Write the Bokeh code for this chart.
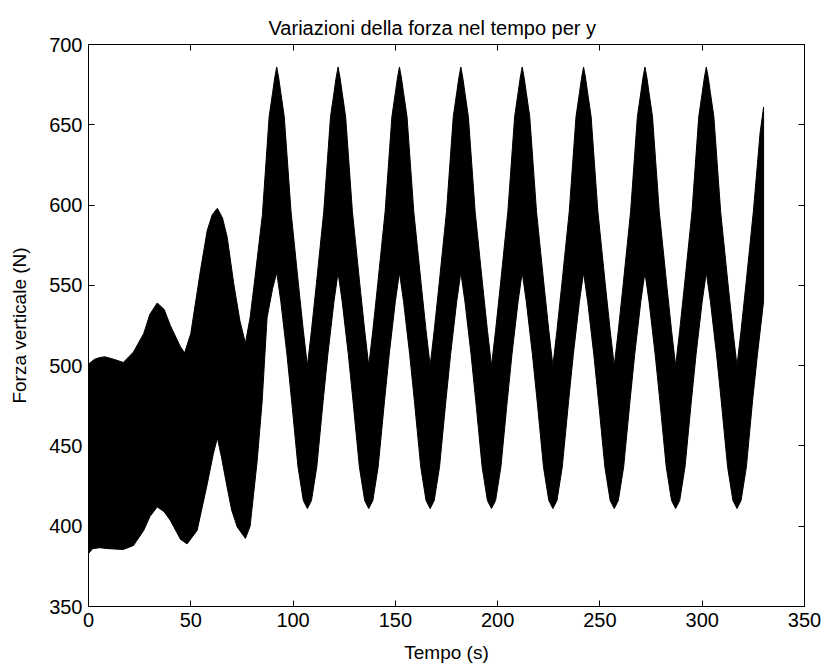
from bokeh.plotting import figure
from bokeh.models import Range1d, FixedTicker, LinearAxis, CustomJSTickFormatter
from bokeh.embed import file_html
from bokeh.resources import INLINE

# ---------------- data ----------------
x_ticks = [0, 50, 100, 150, 200, 250, 300, 350]
y_ticks = [350, 400, 450, 500, 550, 600, 650, 700]

# envelope of the fast oscillation, first (beating) part, 0 - 77 s
upper_early_t = [0, 3, 5.4, 8, 12.3, 17, 22, 27, 30, 33.6, 37, 40, 45, 47,
                 50, 54.7, 58, 60.5, 63, 65.5, 67.8, 71, 74, 76.7]
upper_early_v = [501, 504, 505, 505.5, 504, 502, 508.5, 520, 532, 539, 535, 525, 511.6, 508,
                 520, 559, 584, 594, 598, 592, 580, 551, 528, 514]
lower_early_t = [0, 2, 5.4, 10, 17, 22, 27, 30, 33.6, 37, 40, 45, 48.2,
                 53.1, 58, 61, 63, 65, 67.8, 70, 72.7, 76.7]
lower_early_v = [383, 386, 386.6, 386, 385.5, 388, 397.4, 406, 412, 409, 403.6, 391.8, 389,
                 397.4, 426, 445, 455, 443, 424, 410, 399.5, 392.4]

# transition to the periodic regime, 77 - 92 s
upper_trans_t = [79, 81.4, 85, 88.3, 90, 91]
upper_trans_v = [530, 555, 594, 655, 670, 679]
lower_trans_t = [79, 82.4, 84.9, 87.3, 90, 92]
lower_trans_v = [400, 440, 478, 530, 548, 558]

# periodic regime: peak / trough times
peak_times = [92, 122, 152, 182, 212, 242, 272, 302]
trough_times = [107, 137, 167, 197, 227, 257, 287, 317]

# upper envelope around each peak (offset s, value N)
upper_dt = [-13, -10.6, -7, -3.7, -2, -1, 0, 1, 2, 3.7, 7, 10.6, 13, 15]
upper_v = [522, 551, 596, 655, 670, 679, 686, 679, 670, 655, 596, 551, 522, 500]
# lower envelope around each trough (offset s, value N)
lower_dt = [-13, -10, -7.7, -4.6, -2, 0, 2, 4.6, 7.7, 10, 13, 15]
lower_v = [540, 507, 478, 437, 416, 411, 416, 437, 478, 507, 540, 558]

# last, unfinished rise (ends at 330 s)
upper_end_t = [319, 321.4, 325, 328.3, 330]
upper_end_v = [522, 551, 596, 645, 661]
lower_end_t = [319, 321.6, 324.6, 327, 330]
lower_end_v = [416, 437, 478, 507, 540]

# ---------------- assemble envelope polygon ----------------
up_t = list(upper_early_t) + list(upper_trans_t)
up_v = list(upper_early_v) + list(upper_trans_v)
for k, pk in enumerate(peak_times):
    for dt, v in zip(upper_dt, upper_v):
        if k == 0 and dt < 0:
            continue
        up_t.append(pk + dt)
        up_v.append(v)
up_t += upper_end_t
up_v += upper_end_v

lo_t = list(lower_early_t) + list(lower_trans_t)
lo_v = list(lower_early_v) + list(lower_trans_v)
for tr in trough_times[:-1]:
    for dt, v in zip(lower_dt, lower_v):
        lo_t.append(tr + dt)
        lo_v.append(v)
for dt, v in zip(lower_dt, lower_v):
    if dt <= 0:
        lo_t.append(trough_times[-1] + dt)
        lo_v.append(v)
lo_t += lower_end_t
lo_v += lower_end_v

xs = up_t + lo_t[::-1]
ys = up_v + lo_v[::-1]

# ---------------- figure ----------------
FONT = "Liberation Sans"

p = figure(frame_width=716, frame_height=562,
           min_border_left=88, min_border_top=44, min_border_right=19, min_border_bottom=59,
           x_range=Range1d(0, 350), y_range=Range1d(350, 700),
           output_backend="svg", toolbar_location=None,
           title="Variazioni della forza nel tempo per y")
p.background_fill_color = "white"
p.border_fill_color = "white"
p.grid.visible = False
p.outline_line_color = "black"
p.outline_line_width = 1

p.title.align = "left"
p.title.offset = 180
p.title.text_font = FONT
p.title.text_font_size = "20px"
p.title.text_font_style = "normal"
p.title.text_color = "black"
p.title.standoff = 12

p.patch(xs, ys, fill_color="black", line_color="black", line_width=1)

for ax, ticks in ((p.xaxis[0], x_ticks), (p.yaxis[0], y_ticks)):
    ax.ticker = FixedTicker(ticks=ticks)
    ax.major_tick_in = 6
    ax.major_tick_out = 0
    ax.minor_tick_line_color = None
    ax.axis_line_color = "black"
    ax.major_tick_line_color = "black"
    ax.major_label_text_font = FONT
    ax.major_label_text_font_size = "20px"
    ax.major_label_text_color = "black"
    ax.axis_label_text_font = FONT
    ax.axis_label_text_font_size = "19px"
    ax.axis_label_text_font_style = "normal"
    ax.axis_label_text_color = "black"

p.xaxis.axis_label = "Tempo (s)"
p.yaxis.axis_label = "Forza verticale (N)"
p.xaxis.major_label_standoff = 6
p.xaxis.axis_label_standoff = 12
p.yaxis.major_label_standoff = 6
p.yaxis.axis_label_standoff = 16

blank = CustomJSTickFormatter(code="return '';")
top = LinearAxis(ticker=FixedTicker(ticks=x_ticks), major_tick_in=6, major_tick_out=0,
                 minor_tick_line_color=None, formatter=blank,
                 major_label_text_color=None, major_label_standoff=0,
                 axis_line_color="black")
right = LinearAxis(ticker=FixedTicker(ticks=y_ticks), major_tick_in=6, major_tick_out=0,
                   minor_tick_line_color=None, formatter=blank,
                   major_label_text_color=None, major_label_standoff=0,
                   axis_line_color="black")
p.add_layout(top, "above")
p.add_layout(right, "right")

open("out.html", "w").write(file_html(p, INLINE))
